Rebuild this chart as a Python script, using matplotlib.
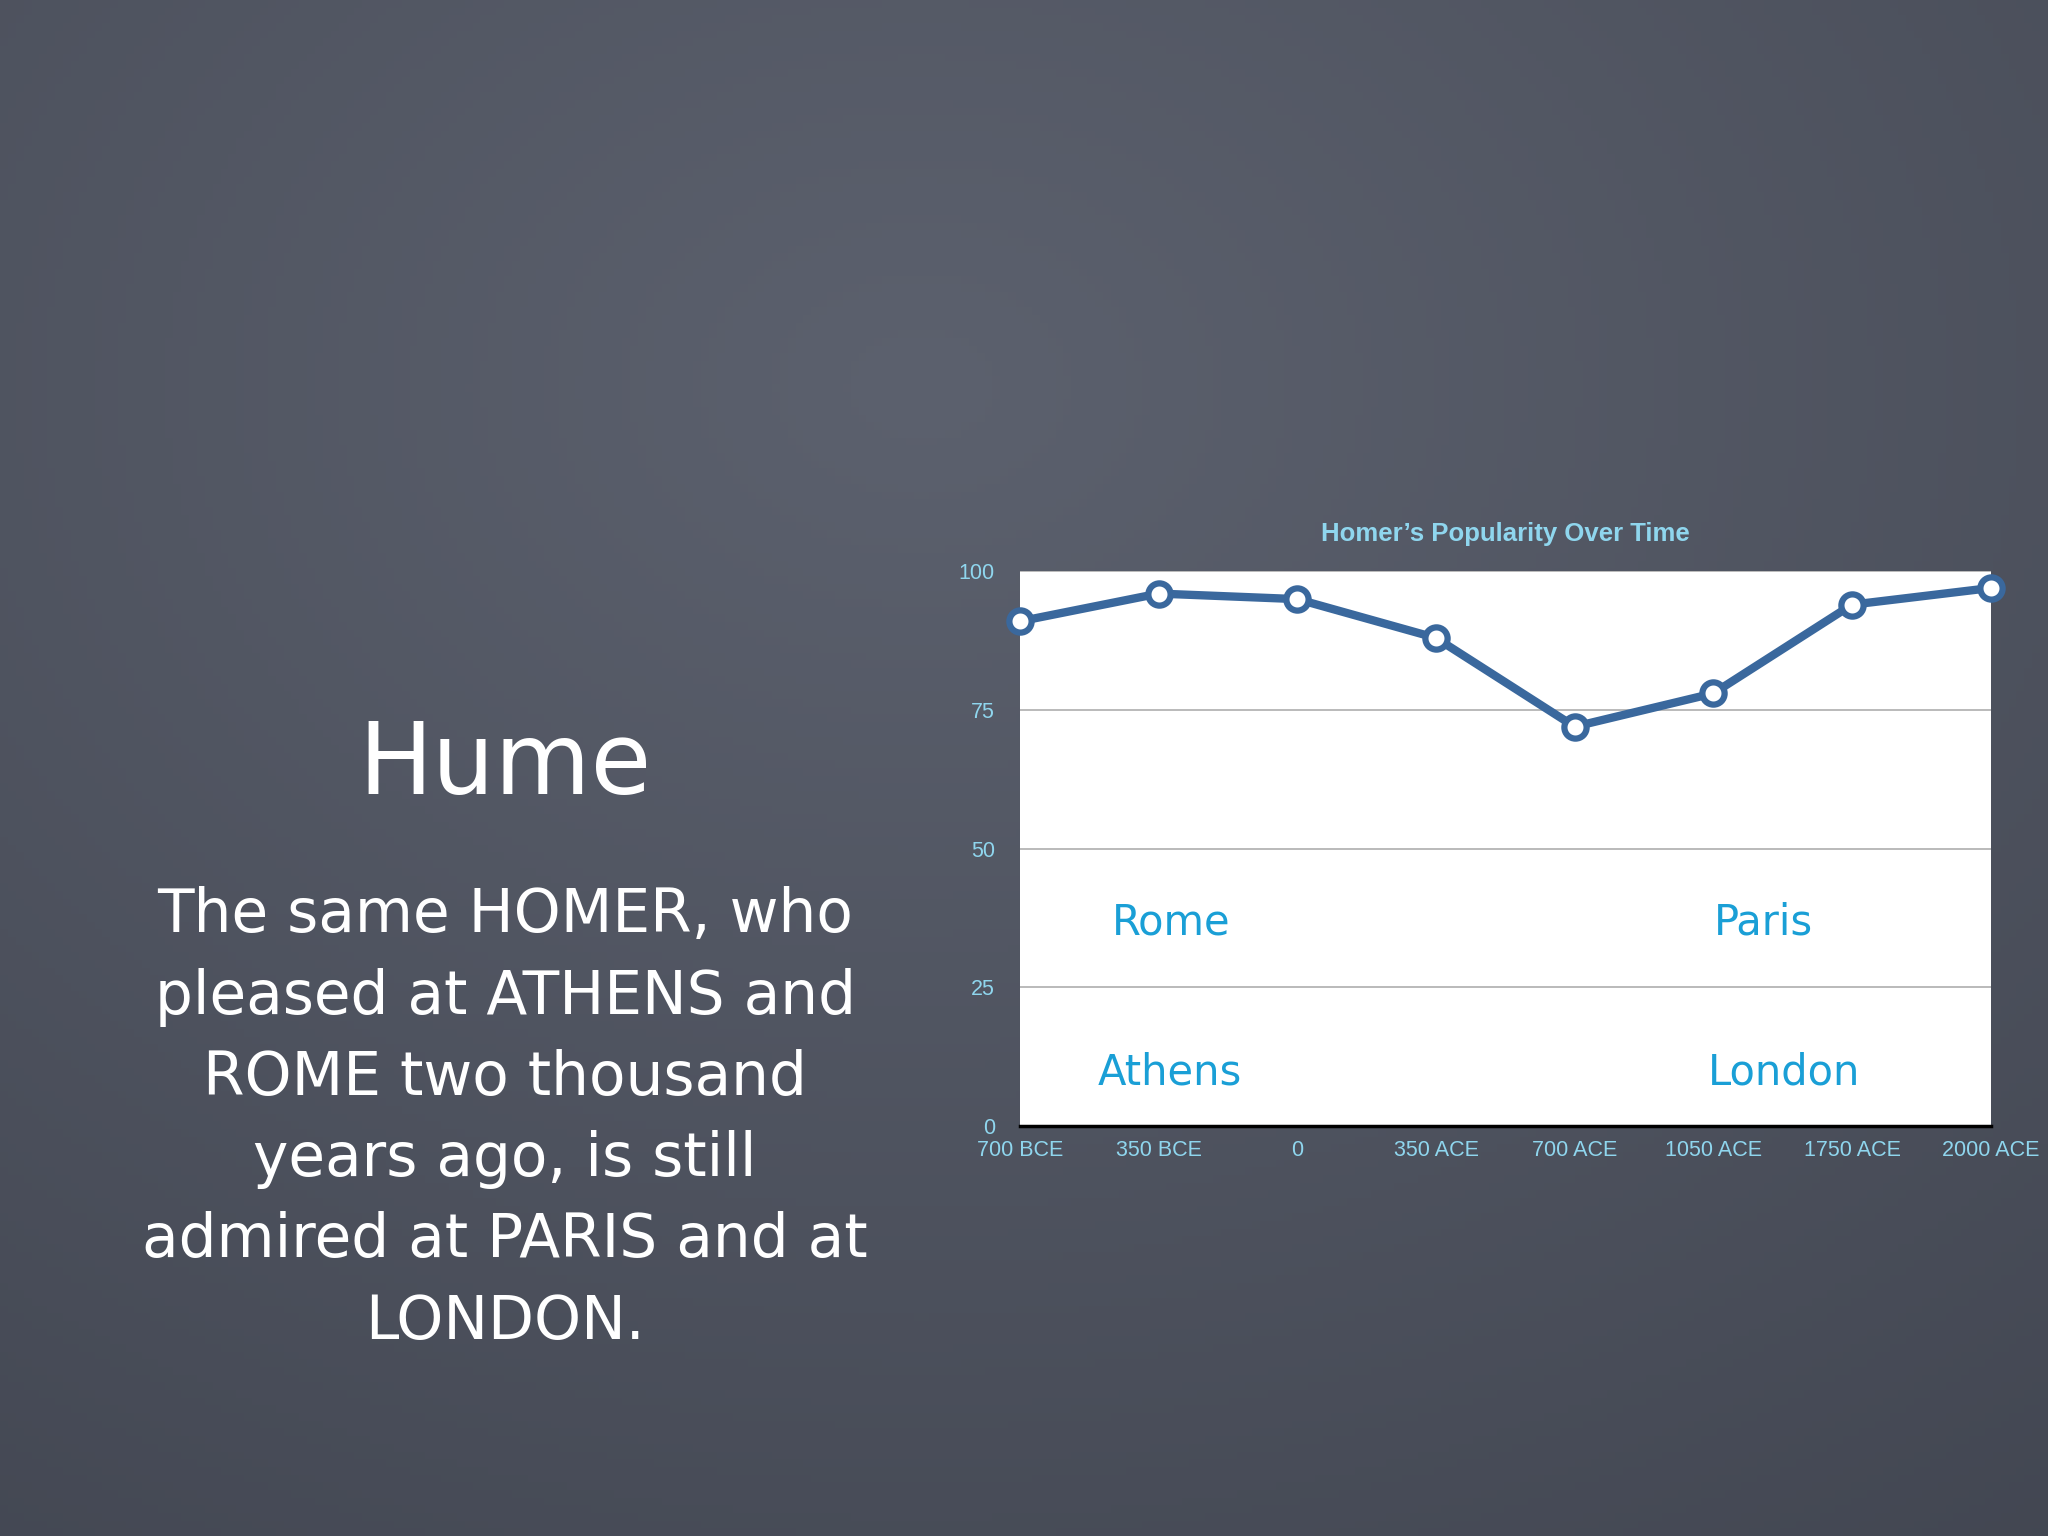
import matplotlib.pyplot as plt
import numpy as np

# chart data
periods = ['700 BCE', '350 BCE', '0', '350 ACE', '700 ACE', '1050 ACE', '1750 ACE', '2000 ACE']
popularity = [91, 96, 95, 88, 72, 78, 94, 97]
y_ticks = [0, 25, 50, 75, 100]

# place names written inside the chart
places = ['Rome', 'Paris', 'Athens', 'London']
place_x = [1.09, 5.36, 1.08, 5.51]
place_y = [36.6, 36.6, 9.7, 9.7]

title = 'Homer\u2019s Popularity Over Time'
heading = 'Hume'
quote = ('The same HOMER, who\npleased at ATHENS and\nROME two thousand\n'
         'years ago, is still\nadmired at PARIS and at\nLONDON.')

fig = plt.figure(figsize=(20.48, 15.36), dpi=100)

# chalkboard-ish background gradient
bg = fig.add_axes([0, 0, 1, 1], zorder=-10)
yy, xx = np.mgrid[0:1:200j, 0:1:260j]
shade = 1 - 0.9 * np.sqrt((xx - 0.45) ** 2 + (yy - 0.25) ** 2)
base = np.array([0x3e, 0x42, 0x4d]) / 255
top = np.array([0x5c, 0x61, 0x6e]) / 255
img = base + (top - base) * np.clip(shade, 0, 1)[..., None]
bg.imshow(img, aspect='auto', extent=[0, 1, 0, 1], origin='upper')
bg.axis('off')

# left-hand text
fig.text(0.2466, 0.483, heading, color='white', fontsize=71, family='DejaVu Sans',
         ha='center', va='baseline')
fig.text(0.2466, 0.2715, quote, color='white', fontsize=43, family='DejaVu Sans',
         ha='center', va='center', linespacing=1.485)

# the chart
ax = fig.add_axes([0.498, 0.267, 0.474, 0.361])
ax.set_facecolor('white')
x = np.arange(len(periods))
ax.plot(x, popularity, color='#3a689d', lw=6, marker='o', markersize=16,
        markerfacecolor='white', markeredgecolor='#3a689d', markeredgewidth=4.5,
        clip_on=False, zorder=5)

for name, px, py in zip(places, place_x, place_y):
    ax.text(px, py, name, color='#1a9fd6', fontsize=30, family='DejaVu Sans',
            ha='center', va='center')

ax.set_xlim(0, 7)
ax.set_ylim(0, 100)
ax.set_yticks(y_ticks)
ax.set_xticks(x)
ax.set_xticklabels(periods)
ax.tick_params(colors='#8fd6ee', labelsize=15.5, length=0)
for lab in ax.get_xticklabels() + ax.get_yticklabels():
    lab.set_family('Liberation Sans')
ax.tick_params(axis='y', pad=18)
ax.tick_params(axis='x', pad=10)
ax.grid(axis='y', color='#b4b4b4', lw=1.3)
ax.set_axisbelow(True)
for s in ['left', 'right', 'top']:
    ax.spines[s].set_visible(False)
ax.spines['bottom'].set_color('black')
ax.spines['bottom'].set_linewidth(2.5)
ax.set_title(title, color='#8fd6ee', fontsize=18.5, fontweight='bold',
             family='Liberation Sans', pad=22)

plt.savefig('out.png', dpi=100, facecolor=fig.get_facecolor())
